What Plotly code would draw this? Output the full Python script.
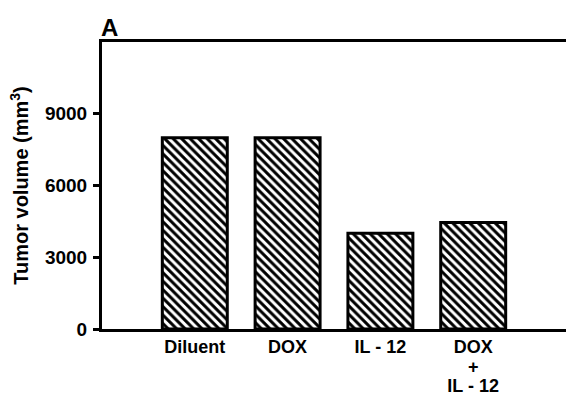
import plotly.graph_objects as go

# Treatment groups and final tumour volumes (mm^3)
groups = ["Diluent", "DOX", "IL - 12", "DOX<br>+<br>IL - 12"]
volumes = [8000, 8000, 4000, 4450]
y_ticks = [0, 3000, 6000, 9000]

FONT = "Liberation Sans, Arial, Helvetica, sans-serif"


def big(label):
    # larger glyphs on a tighter line pitch for the stacked labels
    return "<br>".join(f'<span style="font-size:18px">{part}</span>'
                       for part in label.split("<br>"))


fig = go.Figure(
    go.Bar(
        x=list(range(len(groups))),
        y=volumes,
        width=0.7,
        marker=dict(
            color="white",
            line=dict(color="black", width=3),
            pattern=dict(shape="\\", fgcolor="black", bgcolor="white",
                         size=6, solidity=0.5, fillmode="replace"),
        ),
        hoverinfo="skip",
    )
)

fig.update_layout(
    width=566, height=396,
    margin=dict(l=102, r=0, t=42, b=67),
    paper_bgcolor="white", plot_bgcolor="white",
    showlegend=False,
    font=dict(family=FONT, color="black", size=19, weight="bold"),
    annotations=[dict(
        text="A", xref="paper", yref="paper", x=0, y=1,
        xanchor="left", yanchor="bottom", yshift=-1, xshift=-3, showarrow=False,
        font=dict(size=24, family=FONT, color="black", weight="bold"),
    )],
)

fig.update_xaxes(
    range=[-1, 4],
    tickmode="array",
    tickvals=list(range(len(groups))),
    ticktext=[big(g) for g in groups],
    ticks="outside", ticklen=3, tickcolor="rgba(0,0,0,0)",
    showline=True, linecolor="black", linewidth=3, mirror=True,
    showgrid=False, zeroline=False, automargin=False,
    tickfont=dict(size=15, family=FONT, weight="bold"),
)

fig.update_yaxes(
    range=[0, 12000],
    tickmode="array",
    tickvals=y_ticks,
    ticktext=[str(v) for v in y_ticks],
    ticks="outside", ticklen=6, tickwidth=3, tickcolor="black",
    ticklabelstandoff=2,
    showline=True, linecolor="black", linewidth=3,
    showgrid=False, zeroline=False, automargin=False,
    tickfont=dict(size=19, family=FONT, weight="bold"),
    title=dict(text="Tumor volume (mm<sup>3</sup>)", standoff=11,
               font=dict(size=20, family=FONT, weight="bold")),
)

fig.write_html("out.html")
